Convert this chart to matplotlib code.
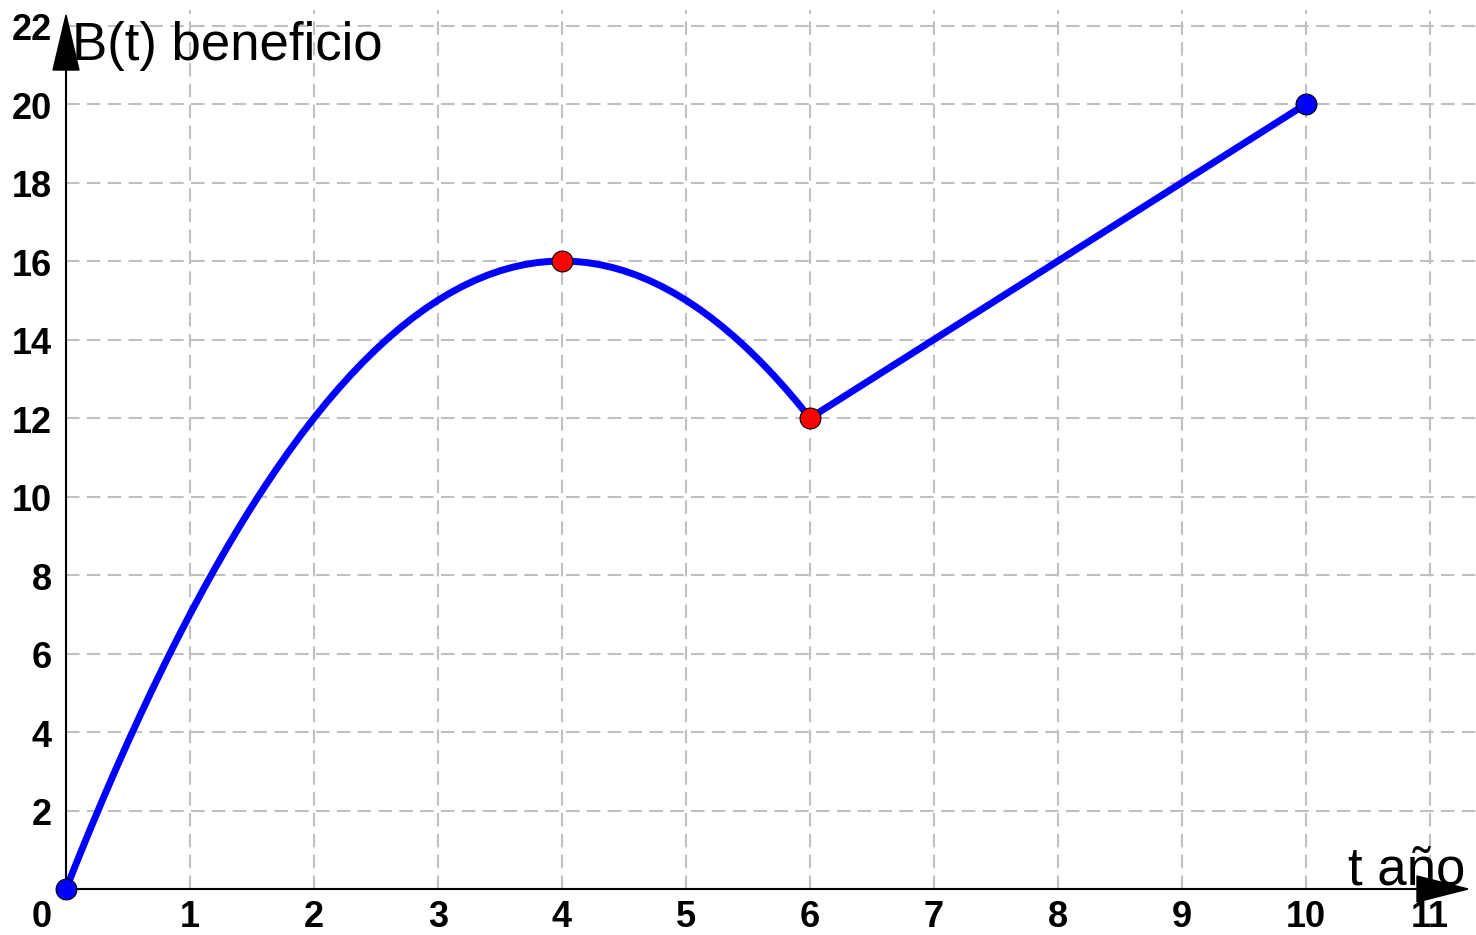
import matplotlib
matplotlib.use("Agg")
import matplotlib.pyplot as plt
from matplotlib.patches import Polygon

# ---- data ----
t_vals = [0, 0.1, 0.2, 0.3, 0.4, 0.5, 0.6, 0.7, 0.8, 0.9,
          1, 1.1, 1.2, 1.3, 1.4, 1.5, 1.6, 1.7, 1.8, 1.9,
          2, 2.1, 2.2, 2.3, 2.4, 2.5, 2.6, 2.7, 2.8, 2.9,
          3, 3.1, 3.2, 3.3, 3.4, 3.5, 3.6, 3.7, 3.8, 3.9,
          4, 4.1, 4.2, 4.3, 4.4, 4.5, 4.6, 4.7, 4.8, 4.9,
          5, 5.1, 5.2, 5.3, 5.4, 5.5, 5.6, 5.7, 5.8, 5.9,
          6, 10]
b_vals = [0, 0.79, 1.56, 2.31, 3.04, 3.75, 4.44, 5.11, 5.76, 6.39,
          7, 7.59, 8.16, 8.71, 9.24, 9.75, 10.24, 10.71, 11.16, 11.59,
          12, 12.39, 12.76, 13.11, 13.44, 13.75, 14.04, 14.31, 14.56, 14.79,
          15, 15.19, 15.36, 15.51, 15.64, 15.75, 15.84, 15.91, 15.96, 15.99,
          16, 15.99, 15.96, 15.91, 15.84, 15.75, 15.64, 15.51, 15.36, 15.19,
          15, 14.79, 14.56, 14.31, 14.04, 13.75, 13.44, 13.11, 12.76, 12.39,
          12, 20]
blue_t = [0, 10]
blue_b = [0, 20]
red_t = [4, 6]
red_b = [16, 12]
x_ticks = [0, 1, 2, 3, 4, 5, 6, 7, 8, 9, 10, 11]
y_ticks = [2, 4, 6, 8, 10, 12, 14, 16, 18, 20, 22]
y_label = "B(t) beneficio"
x_label = "t año"

plt.rcParams['font.family'] = ['Liberation Sans', 'DejaVu Sans']

fig = plt.figure(figsize=(14.76, 9.35), dpi=100)
ax = fig.add_axes([0, 0, 1, 1])
XMIN, XMAX = -0.5323, 11.371
YMIN, YMAX = -1.172, 22.65
ax.set_xlim(XMIN, XMAX)
ax.set_ylim(YMIN, YMAX)
ax.axis('off')

pxx = 124.0   # pixels per x unit
pxy = 39.25   # pixels per y unit

grid_kw = dict(color='#c0c0c0', linewidth=1.5, linestyles=(0, (6.5, 3.5)), zorder=1)
ax.hlines(y_ticks, 0, XMAX, **grid_kw)
ax.vlines(x_ticks[1:], 0, 22.4, **grid_kw)

# axes lines
ax.plot([0, 11.0], [0, 0], color='black', lw=1.5, zorder=2, solid_capstyle='butt')
ax.plot([0, 0], [0, 21.5], color='black', lw=1.5, zorder=2, solid_capstyle='butt')
# arrow heads
ax.add_patch(Polygon([[(1468 - 66) / pxx, 0],
                      [(1417 - 66) / pxx, 13 / pxy],
                      [(1417 - 66) / pxx, -13 / pxy]],
                     closed=True, color='black', zorder=3))
ax.add_patch(Polygon([[0, (889 - 15) / pxy],
                      [-13 / pxx, (889 - 70) / pxy],
                      [13 / pxx, (889 - 70) / pxy]],
                     closed=True, color='black', zorder=3))

# curve
ax.plot(t_vals, b_vals, color='#0000ff', lw=5, zorder=4,
        solid_joinstyle='round', solid_capstyle='round')
ax.plot(blue_t, blue_b, 'o', color='#0000ff', markersize=15,
        markeredgecolor='black', markeredgewidth=0.8, zorder=5)
ax.plot(red_t, red_b, 'o', color='#ff0000', markersize=15,
        markeredgecolor='black', markeredgewidth=0.8, zorder=5)

# tick labels
for x in x_ticks:
    xp = x if x != 0 else -24 / pxx
    ax.text(xp, -(918 - 889) / pxy, str(x), ha='center', va='center',
            fontsize=26, fontweight='bold', zorder=6)
for y in y_ticks:
    ax.text(-14 / pxx, y - 5 / pxy, str(y), ha='right', va='center',
            fontsize=26, fontweight='bold', zorder=6)

# axis labels
ax.text(6 / pxx, (889 - 60) / pxy, y_label, ha='left', va='baseline',
        fontsize=38, zorder=6)
ax.text((1348 - 66) / pxx, -(885 - 889) / pxy, x_label, ha='left', va='baseline',
        fontsize=38, zorder=6)

fig.savefig('out.png', dpi=100)
